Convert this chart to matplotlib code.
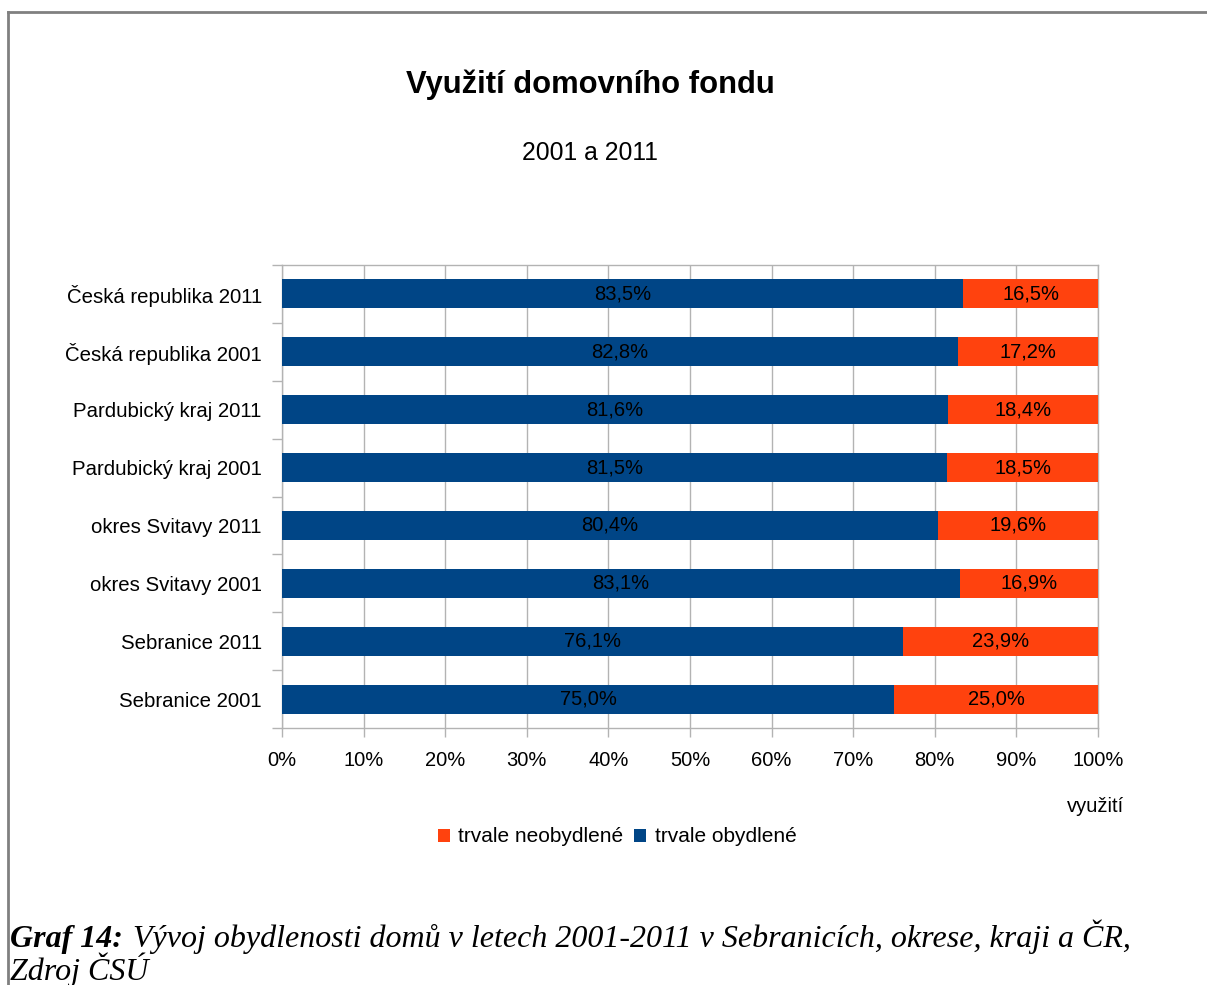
import numpy as np
import matplotlib
matplotlib.use("Agg")
import matplotlib.pyplot as plt
from matplotlib.lines import Line2D

plt.rcParams['font.family'] = ['Liberation Sans', 'DejaVu Sans']

# data (top to bottom as in the chart)
categories = ["Česká republika 2011", "Česká republika 2001",
              "Pardubický kraj 2011", "Pardubický kraj 2001",
              "okres Svitavy 2011", "okres Svitavy 2001",
              "Sebranice 2011", "Sebranice 2001"]
obydlene = [83.5, 82.8, 81.6, 81.5, 80.4, 83.1, 76.1, 75.0]
neobydlene = [16.5, 17.2, 18.4, 18.5, 19.6, 16.9, 23.9, 25.0]
x_ticks = [0, 10, 20, 30, 40, 50, 60, 70, 80, 90, 100]

c_blue = "#004586"
c_orange = "#ff420e"
c_grid = "#b3b3b3"

fig = plt.figure(figsize=(12.07, 9.85), dpi=100)
ax = fig.add_axes([282 / 1207, 1 - 728 / 985, 816 / 1207, 463 / 985])

y = np.arange(len(categories))[::-1]
b1 = ax.barh(y, obydlene, height=0.5, color=c_blue, label="trvale obydlené", zorder=3)
b2 = ax.barh(y, neobydlene, left=obydlene, height=0.5, color=c_orange,
             label="trvale neobydlené", zorder=3)

for bars, vals in ((b1, obydlene), (b2, neobydlene)):
    labels = [("%.1f%%" % v).replace(".", ",") for v in vals]
    ax.bar_label(bars, labels=labels, label_type="center", fontsize=14.5, color="black")

ax.set_xlim(0, 100)
ax.set_ylim(-0.5, 7.5)
ax.set_xticks(x_ticks)
ax.set_xticklabels(["%d%%" % t for t in x_ticks], fontsize=14.5)
ax.set_yticks(y)
ax.set_yticklabels(categories, fontsize=14.7, va="center_baseline")
ax.set_yticks(np.arange(-0.5, 8, 1), minor=True)
ax.tick_params(axis="y", which="major", length=0, pad=14.5)
ax.tick_params(axis="y", which="minor", length=7, width=1, color=c_grid, direction="out")
ax.tick_params(axis="x", length=6.5, width=1, color=c_grid, pad=10)
ax.grid(axis="x", color=c_grid, linewidth=1, zorder=0)
for s in ax.spines.values():
    s.set_color(c_grid)
    s.set_linewidth(1)

fig.text(590 / 1207, 1 - 85 / 985, "Využití domovního fondu", ha="center", va="center",
         fontsize=22.3, fontweight="bold")
fig.text(590 / 1207, 1 - 153 / 985, "2001 a 2011", ha="center", va="center", fontsize=17.8)
fig.text(1124 / 1207, 1 - 807 / 985, "využití", ha="right", va="center", fontsize=14.5)

h, l = ax.get_legend_handles_labels()
fig.legend(h[::-1], l[::-1], loc="center", bbox_to_anchor=(617 / 1207, 1 - 837 / 985),
           ncol=2, frameon=False, fontsize=15, handlelength=0.6, handleheight=0.6,
           handletextpad=0.4, columnspacing=0.5)

# outer frame
fig.add_artist(Line2D([8 / 1207, 1.0], [1 - 12 / 985] * 2, color="#808080", lw=2))
fig.add_artist(Line2D([8 / 1207] * 2, [1 - 12 / 985, 0], color="#808080", lw=2))

# caption
serif = dict(family="Liberation Serif", style="italic", fontsize=23)
t1 = fig.text(10 / 1207, 1 - 947 / 985, "Graf 14:", ha="left", va="baseline",
              weight="bold", **serif)
fig.canvas.draw()
bb = t1.get_window_extent()
fig.text((bb.x1 + 10) / 1207, 1 - 947 / 985,
         "Vývoj obydlenosti domů v letech 2001-2011 v Sebranicích, okrese, kraji a ČR,",
         ha="left", va="baseline", **serif)
fig.text(10 / 1207, 1 - 980 / 985, "Zdroj ČSÚ", ha="left", va="baseline", **serif)

fig.savefig("out.png", dpi=100)
